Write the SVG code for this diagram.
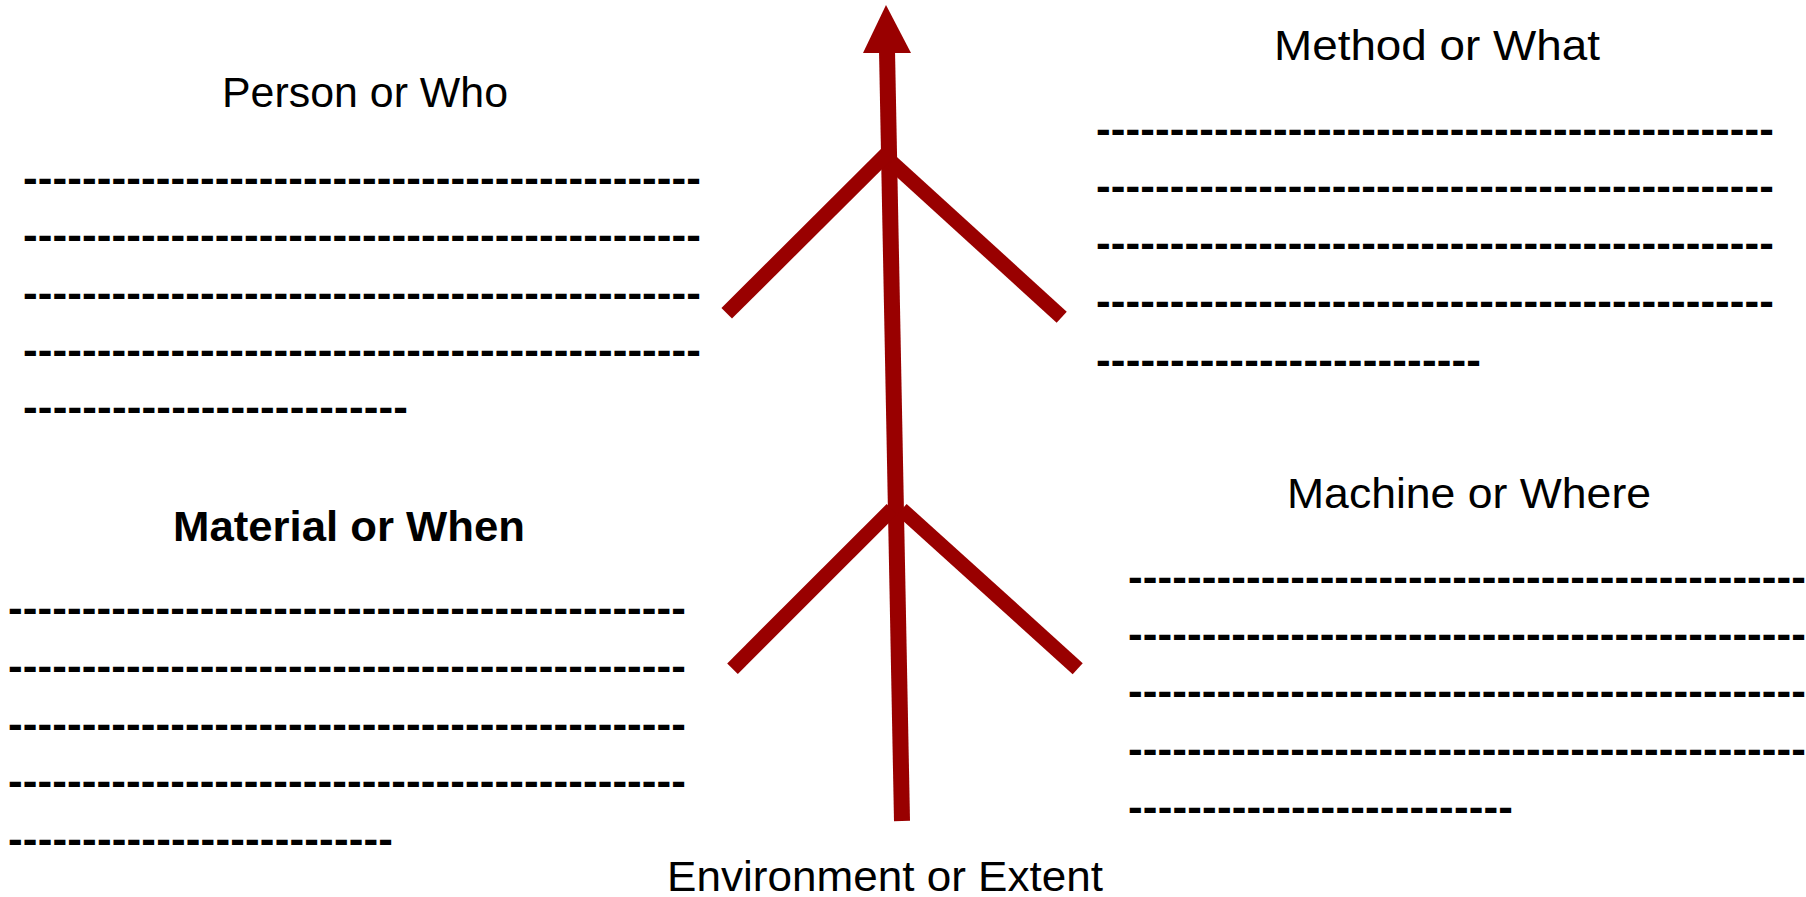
<svg xmlns="http://www.w3.org/2000/svg" width="1806" height="897" viewBox="0 0 1806 897">
  <defs>
    <style>
      .lbl { font-family: "Liberation Sans", Arial, sans-serif; font-size: 42px; fill: #000; }
      .bold { font-weight: bold; }
      .dash { font-family: "Liberation Sans", Arial, sans-serif; font-size: 44px; font-weight: bold; fill: #000; }
      .bone { stroke: #990000; stroke-width: 15; fill: none; stroke-linecap: butt; }
    </style>
  </defs>
  <rect width="1806" height="897" fill="#ffffff"/>

  <g id="connectors">
    <line class="bone" x1="887" y1="50" x2="902" y2="821" style="stroke-width:16"/>
    <polygon points="886,5 863,53 911,53" fill="#990000"/>
    <line class="bone" x1="726.7" y1="313.3" x2="887" y2="153.6"/>
    <line class="bone" x1="891.6" y1="162.2" x2="1061.7" y2="317.2"/>
    <line class="bone" x1="732.5" y1="668.7" x2="892" y2="509.3"/>
    <line class="bone" x1="901.6" y1="509.5" x2="1077.7" y2="668.7"/>
  </g>

  <g id="person">
    <text class="lbl" x="222" y="107" textLength="286" lengthAdjust="spacingAndGlyphs">Person or Who</text>
    <text class="dash" x="23" y="193" textLength="678">----------------------------------------------</text>
    <text class="dash" x="23" y="250" textLength="678">----------------------------------------------</text>
    <text class="dash" x="23" y="308" textLength="678">----------------------------------------------</text>
    <text class="dash" x="23" y="365" textLength="678">----------------------------------------------</text>
    <text class="dash" x="23" y="422" textLength="385">--------------------------</text>
  </g>

  <g id="method">
    <text class="lbl" x="1274" y="60" textLength="326" lengthAdjust="spacingAndGlyphs">Method or What</text>
    <text class="dash" x="1096" y="144" textLength="678">----------------------------------------------</text>
    <text class="dash" x="1096" y="201" textLength="678">----------------------------------------------</text>
    <text class="dash" x="1096" y="258" textLength="678">----------------------------------------------</text>
    <text class="dash" x="1096" y="316" textLength="678">----------------------------------------------</text>
    <text class="dash" x="1096" y="375" textLength="385">--------------------------</text>
  </g>

  <g id="material">
    <text class="lbl bold" x="173" y="541" textLength="352" lengthAdjust="spacingAndGlyphs">Material or When</text>
    <text class="dash" x="8" y="623" textLength="678">----------------------------------------------</text>
    <text class="dash" x="8" y="681" textLength="678">----------------------------------------------</text>
    <text class="dash" x="8" y="739" textLength="678">----------------------------------------------</text>
    <text class="dash" x="8" y="796" textLength="678">----------------------------------------------</text>
    <text class="dash" x="8" y="854" textLength="385">--------------------------</text>
  </g>

  <g id="machine">
    <text class="lbl" x="1287" y="508" textLength="364" lengthAdjust="spacingAndGlyphs">Machine or Where</text>
    <text class="dash" x="1128" y="592" textLength="678">----------------------------------------------</text>
    <text class="dash" x="1128" y="649" textLength="678">----------------------------------------------</text>
    <text class="dash" x="1128" y="706" textLength="678">----------------------------------------------</text>
    <text class="dash" x="1128" y="764" textLength="678">----------------------------------------------</text>
    <text class="dash" x="1128" y="822" textLength="385">--------------------------</text>
  </g>

  <g id="environment">
    <text class="lbl" x="667" y="891" textLength="436" lengthAdjust="spacingAndGlyphs">Environment or Extent</text>
  </g>
</svg>
